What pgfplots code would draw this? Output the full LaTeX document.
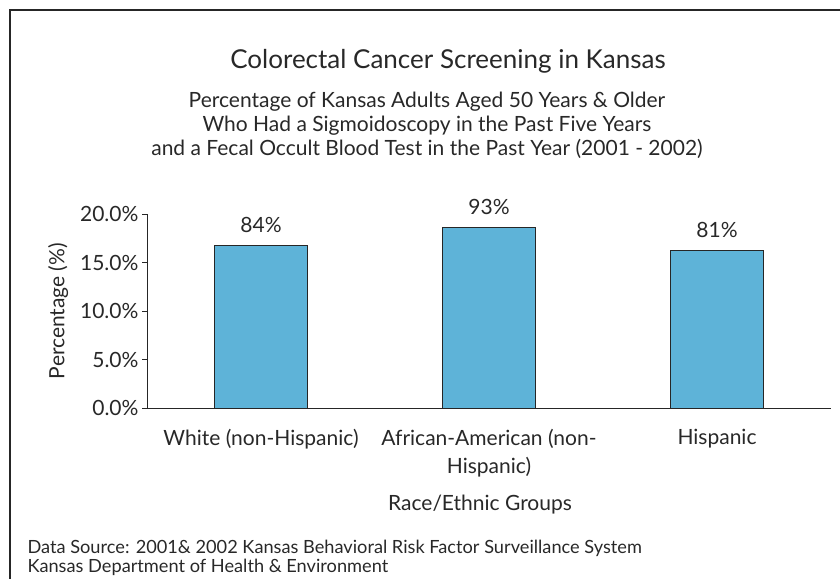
\documentclass[border=0pt]{standalone}
\usepackage{fontspec}
\setmainfont{Lato}
\usepackage{pgfplots}
\usepackage{pgfplotstable}
\pgfplotsset{compat=1.18}
\definecolor{barblue}{RGB}{94,179,216}
\definecolor{txt}{RGB}{40,40,40}
\pgfplotstableread{
x y label
0 16.8 84\%
1 18.6 93\%
2 16.2 81\%
}\datatable
\begin{document}
\begin{tikzpicture}[x=1pt,y=1pt]
\useasboundingbox (0pt,0pt) rectangle (840pt,-579pt);
\draw[line width=2.2pt, color=black!85] (840pt,-10pt) -- (10pt,-10pt) -- (10pt,-579pt);
\node[font=\fontsize{26}{30}\selectfont, text=txt] at (448pt,-61pt) {Colorectal Cancer Screening in Kansas};
\node[font=\fontsize{21}{24}\selectfont, text=txt, align=center] at (427pt,-125pt) {Percentage of Kansas Adults Aged 50 Years \& Older\\Who Had a Sigmoidoscopy in the Past Five Years\\and a Fecal Occult Blood Test in the Past Year (2001 - 2002)};
\node[font=\fontsize{18.2}{19.5}\selectfont, text=txt, align=left, anchor=west] at (24pt,-558pt) {Data Source: 2001\& 2002 Kansas Behavioral Risk Factor Surveillance System\\Kansas Department of Health \& Environment};
\begin{axis}[
  at={(147pt,-408pt)}, anchor=south west,
  scale only axis, width=684pt, height=194pt,
  xmin=-0.5, xmax=2.5, ymin=0, ymax=20,
  axis lines*=left,
  axis line style={color=black!85, line width=0.8pt},
  tick style={color=black!85, line width=0.8pt},
  tick align=outside, major tick length=5pt,
  ytick={0,5,10,15,20},
  yticklabel={\pgfmathprintnumber[fixed,fixed zerofill,precision=1]{\tick}\%},
  /pgf/number format/assume math mode=true,
  xtick={0,1,2},
  xticklabels={White (non-Hispanic),African-American (non-\\Hispanic),Hispanic},
  major x tick style={draw=none},
  extra x ticks={-0.5,0.5,1.5,2.5},
  extra x tick labels={},
  extra x tick style={major tick length=6pt, tick style={draw=black!85}},
  xticklabel style={align=center, font=\fontsize{21}{27.5}\selectfont, text=txt, yshift=-13pt},
  yticklabel style={font=\fontsize{21}{23}\selectfont, text=txt},
  ylabel={Percentage (\%)},
  ylabel style={font=\fontsize{21}{23}\selectfont, text=txt, yshift=5pt},
  xlabel={Race/Ethnic Groups},
  xlabel style={font=\fontsize{21}{23}\selectfont, text=txt, xshift=-9pt, yshift=0pt},
  ybar, bar width=93pt,
  nodes near coords,
  point meta=explicit symbolic,
  every node near coord/.append style={font=\fontsize{21}{23}\selectfont, text=txt, yshift=9pt},
  clip=false,
]
\addplot[fill=barblue, draw=black!85, line width=1pt] table[x=x, y=y, meta=label] {\datatable};
\end{axis}
\end{tikzpicture}
\end{document}
